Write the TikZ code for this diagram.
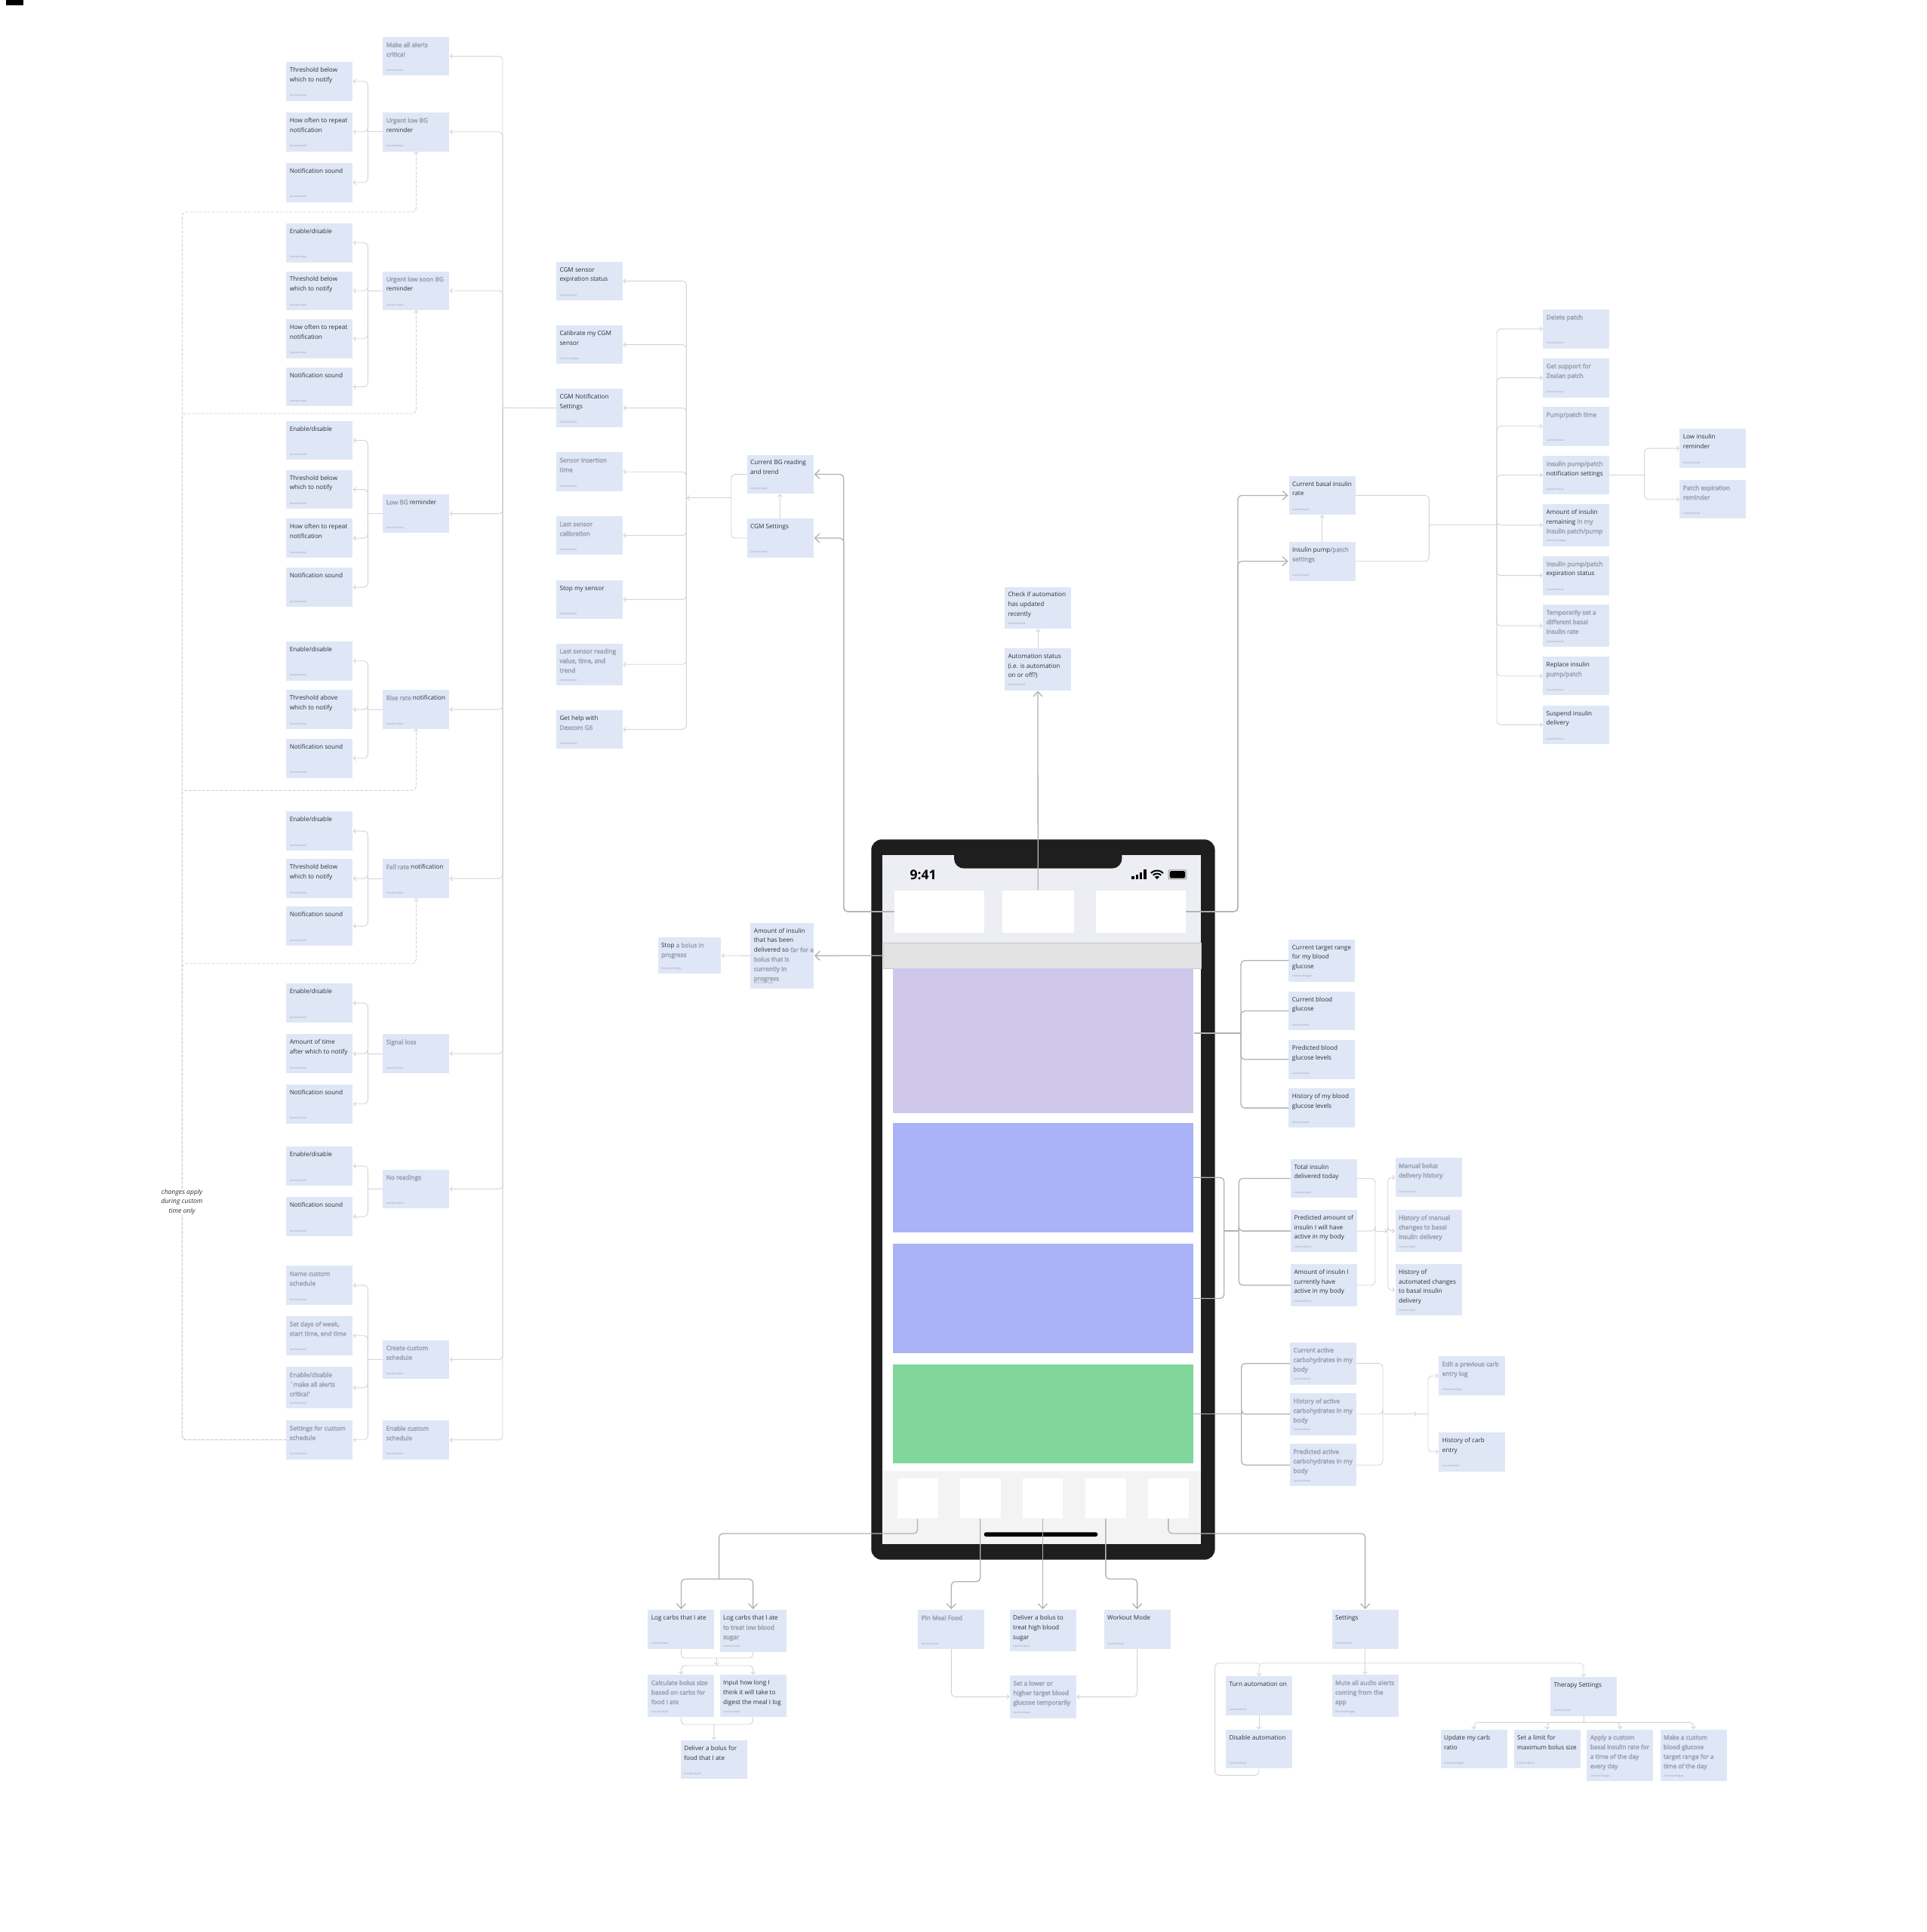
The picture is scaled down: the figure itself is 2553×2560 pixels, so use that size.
\documentclass[tikz,border=0pt]{standalone}
\usepackage{fontspec}
\setmainfont{Open Sans}
\newfontfamily\blurfont[FakeBold=6]{Open Sans}
\usetikzlibrary{arrows.meta}
\definecolor{cardblue}{HTML}{DFE7F6}
\definecolor{inktext}{HTML}{2C3039}
\definecolor{inkfoot}{HTML}{9097A6}
\definecolor{blurink}{HTML}{A3A9B9}
\definecolor{wirelight}{HTML}{D4D4D4}
\definecolor{wiremain}{HTML}{B2B2B2}
\definecolor{phonedark}{HTML}{1E1E1E}
\definecolor{topzone}{HTML}{EDEEF3}
\definecolor{tabzone}{HTML}{F3F3F3}
\definecolor{bannerfill}{HTML}{E3E3E3}
\definecolor{bannerline}{HTML}{C6C6C6}
\definecolor{battline}{HTML}{8A8A8A}
\definecolor{panellav}{HTML}{D0C8EB}
\definecolor{panelblue}{HTML}{A9B3F5}
\definecolor{panelgreen}{HTML}{81D69C}
\tikzset{
  cardbox/.style={fill=cardblue,anchor=north west,inner sep=0pt,outer sep=0pt},
  cardtext/.style={anchor=north west,inner sep=0pt,align=left,text=inktext,font=\fontsize{8.2}{12.67}\selectfont},
  cardfoot/.style={anchor=west,inner sep=0pt,text=inkfoot,font=\fontsize{3.3}{4}\selectfont},
  screen/.style={anchor=north west,inner sep=0pt,outer sep=0pt},
  wire/.style={draw=wirelight,line width=.9pt,rounded corners=5pt},
  tipped/.style={wire,-{Straight Barb[length=3pt,width=6pt]},shorten >=.5pt},
  dashwire/.style={wire,dash pattern=on 4pt off 2pt,-{Straight Barb[length=3pt,width=6pt]}},
  mainline/.style={draw=wiremain,line width=1.3pt,rounded corners=5pt},
  mainarrow/.style={mainline,-{Straight Barb[length=6.5pt,width=12pt]},shorten >=1pt},
}
\newcommand{\bl}[1]{{\blurfont\textcolor{blurink}{#1}}}
\def\cardw{88}
\newcommand{\card}[6][Caroline David]{
  \node[cardbox,minimum width=\cardw pt,minimum height=#5pt] (#2) at (#3,#4) {};
  \node[cardtext] (#2t) at ([xshift=4.3pt,yshift=-5.2pt]#2.north west) {\rule{0pt}{8pt}#6};
  \node[cardfoot] (#2f) at ([xshift=4.3pt,yshift=7pt]#2.south west) {#1};
}
\newcommand{\panel}[6]{\node[screen,#6,minimum width={#4-#2},minimum height={#5-#3}] (#1) at (#2,#3) {};}
\begin{document}
\begin{tikzpicture}[x=1pt,y=-1pt]
\useasboundingbox (0,0) rectangle (2553,2560);
\fill[white] (0,0) rectangle (2553,2560);
\fill[black] (8,0) rectangle (31,7);

% phone
\fill[phonedark,rounded corners=14pt] (1154.3,1112.3) rectangle (1609.6,2066.7);
\fill[white] (1169.3,1133) rectangle (1591.4,2046);
\fill[topzone] (1169.3,1133) rectangle (1591.4,1250);
\fill[tabzone] (1169.3,1949) rectangle (1591.4,2046);
\fill[phonedark,rounded corners=13pt] (1264,1120) -- (1264,1150.7) -- (1486.4,1150.7) -- (1486.4,1120) -- cycle;
\node[inner sep=0pt,font=\fontsize{17.5}{20}\selectfont\bfseries] (clock) at (1223,1159) {9:41};
\foreach \x/\h in {1499.3/4,1504.6/6.5,1510/9.5,1515.4/12.7}\fill[black] (\x,1165) rectangle ++(3.2,-\h);
\begin{scope}[shift={(1532.9,1165)},y=1pt]
\fill[black] (0,0) -- (45:4.5pt) arc (45:135:4.5pt) -- cycle;
\draw[black,line width=2pt] (45:7.5pt) arc (45:135:7.5pt);
\draw[black,line width=2pt] (45:11.5pt) arc (45:135:11.5pt);
\end{scope}
\draw[battline,rounded corners=2pt,line width=.8pt] (1547.9,1152.7) rectangle (1572,1165);
\fill[black,rounded corners=1.5pt] (1549.6,1154.2) rectangle (1570.3,1163.5);
\panel{topa}{1184.6}{1179.7}{1304.3}{1236}{fill=white}
\panel{topb}{1327.5}{1179.7}{1422.9}{1236}{fill=white}
\panel{topc}{1452}{1179.7}{1571.4}{1236}{fill=white}
\panel{banner}{1170}{1249.3}{1591.4}{1283.3}{fill=bannerfill,draw=bannerline}
\panel{panelp}{1182.9}{1283.3}{1581}{1475}{fill=panellav}
\panel{panela}{1182.9}{1487.6}{1581}{1633}{fill=panelblue}
\panel{panelb}{1182.9}{1648}{1581}{1793}{fill=panelblue}
\panel{panelg}{1182.9}{1808}{1581}{1939}{fill=panelgreen}
\panel{taba}{1188.6}{1959}{1242.5}{2012.3}{fill=white}
\panel{tabb}{1271.8}{1959}{1325.7}{2012.3}{fill=white}
\panel{tabc}{1354.6}{1959}{1408.2}{2012.3}{fill=white}
\panel{tabd}{1437.9}{1959}{1491.8}{2012.3}{fill=white}
\panel{tabe}{1520.7}{1959}{1575}{2012.3}{fill=white}
\fill[black,rounded corners=2.8pt] (1303.6,2030.3) rectangle (1454.3,2036);

% notification settings, far left
\card{mcrit}{507.3}{49}{51}{\bl{Make all alerts}\\\bl{critical}}
\card{ul}{507.3}{149}{51.5}{\bl{Urgent low BG}\\reminder}
\card{ula}{379.3}{82}{51.5}{Threshold below\\which to notify}
\card{ulb}{379.3}{149}{51.5}{How often to repeat\\notification}
\card{ulc}{379.3}{216}{51.5}{Notification sound}
\card{us}{507.3}{359.5}{51.5}{\bl{Urgent low soon BG}\\reminder}
\card{usa}{379.3}{296}{51.5}{Enable/disable}
\card{usb}{379.3}{359.5}{51.5}{Threshold below\\which to notify}
\card{usc}{379.3}{423}{51.5}{How often to repeat\\notification}
\card{usd}{379.3}{486.7}{51.5}{Notification sound}
\card{lo}{507.3}{655}{51.3}{\bl{Low BG} reminder}
\card{loa}{379.3}{557.7}{51.5}{Enable/disable}
\card{lob}{379.3}{622.7}{51.5}{Threshold below\\which to notify}
\card{loc}{379.3}{687.3}{51.5}{How often to repeat\\notification}
\card{lod}{379.3}{752.3}{51.5}{Notification sound}
\card{rr}{507.3}{914.3}{51.5}{\bl{Rise rate} notification}
\card{rra}{379.3}{850}{51.5}{Enable/disable}
\card{rrb}{379.3}{914.3}{51.5}{Threshold above\\which to notify}
\card{rrc}{379.3}{979}{51.5}{Notification sound}
\card{fr}{507.3}{1138.3}{51.5}{\bl{Fall rate} notification}
\card{fra}{379.3}{1075.3}{51.5}{Enable/disable}
\card{frb}{379.3}{1138.3}{51.5}{Threshold below\\which to notify}
\card{frc}{379.3}{1201.3}{51.5}{Notification sound}
\card{sl}{507.3}{1370.3}{51.5}{\bl{Signal loss}}
\card{sla}{379.3}{1303.3}{51.5}{Enable/disable}
\card{slb}{379.3}{1370.3}{51.5}{Amount of time\\after which to notify}
\card{slc}{379.3}{1437}{51.5}{Notification sound}
\card{nr}{507.3}{1549.7}{51.5}{\bl{No readings}}
\card{nra}{379.3}{1519.3}{51.5}{Enable/disable}
\card{nrb}{379.3}{1586.3}{51.5}{Notification sound}
\card{cc}{507.3}{1775.7}{51.6}{\bl{Create custom}\\\bl{schedule}}
\card{cca}{379.3}{1677.3}{51.5}{\bl{Name custom}\\\bl{schedule}}
\card{ccb}{379.3}{1744}{51.5}{\bl{Set days of week,}\\\bl{start time, end time}}
\card{ccc}{379.3}{1811.3}{55}{\bl{Enable/disable}\\\bl{`make all alerts}\\\bl{critical'}}
\card{ccd}{379.3}{1882}{51.5}{\bl{Settings for custom}\\\bl{schedule}}
\card{ec}{507.3}{1882.3}{51.2}{\bl{Enable custom}\\\bl{schedule}}

% cgm column
\card{cgma}{737}{346.7}{51.3}{CGM sensor\\expiration status}
\card[Christine Bridges]{cgmb}{737}{431}{51.3}{Calibrate my CGM\\sensor}
\card{cgmn}{737}{515}{51.3}{CGM Notification\\Settings}
\card{cgmd}{737}{599.4}{51.6}{\bl{Sensor insertion}\\\bl{time}}
\card{cgme}{737}{684}{51}{\bl{Last sensor}\\\bl{calibration}}
\card{cgmf}{737}{768.6}{51.4}{Stop my sensor}
\card{cgmg}{737}{852.5}{55.5}{\bl{Last sensor reading}\\\bl{value, time, and}\\\bl{trend}}
\card{cgmh}{737}{941}{51}{Get help with\\\bl{Dexcom G6}}
\card{bgnow}{989.6}{602.5}{51.8}{Current BG reading\\and trend}
\card{cgms}{989.6}{687.3}{51.4}{CGM Settings}
\card{check}{1331}{777.5}{55.5}{Check if automation\\has updated\\recently}
\card{auto}{1331}{859}{55.5}{Automation status\\(i.e. is automation\\on or off?)}

% pump column
\card{basal}{1707.6}{630.8}{51.2}{Current basal insulin\\rate}
\card{pump}{1707.6}{717.8}{51.8}{Insulin pump\bl{/patch}\\\bl{settings}}
\card{pma}{2044.2}{409.9}{51.8}{\bl{Delete patch}}
\card{pmb}{2044.2}{474.7}{51.8}{\bl{Get support for}\\\bl{Zealan patch}}
\card{pmc}{2044.2}{539}{51.5}{\bl{Pump/patch time}}
\card{pmd}{2044.2}{604}{51}{\bl{Insulin pump/patch}\\notification settings}
\card[Christine Bridges]{pme}{2044.2}{668}{55.7}{Amount of insulin\\remaining \bl{in my}\\\bl{insulin patch/pump}}
\card{pmf}{2044.2}{736.8}{51.7}{\bl{Insulin pump/patch}\\expiration status}
\card{pmg}{2044.2}{801}{56.3}{\bl{Temporarily set a}\\\bl{different basal}\\\bl{insulin rate}}
\card{pmh}{2044.2}{870}{51.4}{Replace insulin\\\bl{pump/patch}}
\card{pmi}{2044.2}{934.8}{51.2}{Suspend insulin\\delivery}
\card{lowi}{2225.4}{568.4}{51.4}{Low insulin\\reminder}
\card{patx}{2225.4}{636}{51.4}{\bl{Patch expiration}\\\bl{reminder}}

% banner cards
\def\cardw{83.6}
\card[Christine Bridges]{stop}{871.7}{1242}{48.3}{Stop \bl{a bolus in}\\\bl{progress}}
\card[Christine Bridges]{sofar}{994.3}{1222.7}{87.3}{Amount of insulin\\that has been\\delivered so \bl{far for a}\\\bl{bolus that is}\\\bl{currently in}\\\bl{progress}}
\def\cardw{88}

% right of the panels
\card[Christine Bridges]{tgt}{1707.3}{1244.9}{55.6}{Current target range\\for my blood\\glucose}
\card{cur}{1707.3}{1313.8}{51.5}{Current blood\\glucose}
\card{pred}{1707.3}{1378}{51.6}{Predicted blood\\glucose levels}
\card{hist}{1707.3}{1442.3}{51.6}{History of my blood\\glucose levels}
\card{tot}{1710}{1535.7}{51.5}{Total insulin\\delivered today}
\card{prin}{1710}{1603}{56.2}{Predicted amount of\\insulin I will have\\active in my body}
\card{amin}{1710}{1675}{56}{Amount of insulin I\\currently have\\active in my body}
\card{mana}{1848.6}{1534.2}{52}{\bl{Manual bolus}\\\bl{delivery history}}
\card{manb}{1848.6}{1603}{56.2}{\bl{History of manual}\\\bl{changes to basal}\\\bl{insulin delivery}}
\card{manc}{1848.6}{1675}{68.4}{History of\\automated changes\\to basal insulin\\delivery}
\card{cba}{1709}{1778.6}{56.1}{\bl{Current active}\\\bl{carbohydrates in my}\\\bl{body}}
\card{cbb}{1709}{1846}{55.5}{\bl{History of active}\\\bl{carbohydrates in my}\\\bl{body}}
\card{cbc}{1709}{1913}{56.4}{\bl{Predicted active}\\\bl{carbohydrates in my}\\\bl{body}}
\card[Christine Bridges]{edit}{1906.3}{1797}{52}{\bl{Edit a previous carb}\\\bl{entry log}}
\card{hcb}{1906.3}{1898}{51.5}{History of carb\\entry}

% bottom rows
\card{loga}{858.4}{2133.3}{51.4}{Log carbs that I ate}
\card{logb}{953.6}{2133.3}{55.4}{Log carbs that I ate\\\bl{to treat low blood}\\\bl{sugar}}
\card{calc}{858.4}{2219.3}{56}{\bl{Calculate bolus size}\\\bl{based on carbs for}\\\bl{food I ate}}
\card{inpt}{953.6}{2219.3}{56}{Input how long I\\think it will take to\\digest the meal I log}
\card{food}{901.8}{2306}{51}{Deliver a bolus for\\food that I ate}
\card{pin}{1216.3}{2133.3}{51.7}{\bl{Pin Meal Food}}
\card{bolh}{1337.7}{2133.3}{55}{Deliver a bolus to\\treat high blood\\sugar}
\card{work}{1462.6}{2133.3}{51.7}{Workout Mode}
\card{lowr}{1337.9}{2220}{56.7}{\bl{Set a lower or}\\\bl{higher target blood}\\\bl{glucose temporarily}}
\card{sett}{1764.6}{2133.3}{51.4}{Settings}
\card{turn}{1624}{2221.3}{51.4}{Turn automation on}
\card{disa}{1624}{2292}{51.3}{Disable automation}
\card[Christine Bridges]{mute}{1764.6}{2219.3}{56}{\bl{Mute all audio alerts}\\\bl{coming from the}\\\bl{app}}
\card{ther}{2054}{2222.3}{51.4}{Therapy Settings}
\card[Christine Bridges]{upd}{1908.6}{2292}{51.3}{Update my carb\\ratio}
\card{lim}{2005.7}{2292}{51.3}{Set a limit for\\maximum bolus size}
\card[Christine Bridges]{appl}{2102.4}{2291.7}{68.6}{\bl{Apply a custom}\\\bl{basal insulin rate for}\\\bl{a time of the day}\\\bl{every day}}
\card[Christine Bridges]{make}{2199.5}{2291.7}{68.6}{\bl{Make a custom}\\\bl{blood glucose}\\\bl{target range for a}\\\bl{time of the day}}

% dashed links and brackets on the left
\foreach \up/\yy in {ul/281,us/548,rr/1047.3,fr/1276.7}{
  \coordinate (dk) at (241.3,\yy);
  \draw[dashwire] (ccd.west) -| (dk) -| (\up.south);
}
\node[inner sep=1pt,fill=white,align=center,text=inktext,font=\fontsize{8.6}{12.67}\selectfont\itshape] (apply) at (241,1592.5) {changes apply\\during custom\\time only};
\foreach \up/\kids in {ul/{ula,ulb,ulc},us/{usa,usb,usc,usd},lo/{loa,lob,loc,lod},rr/{rra,rrb,rrc},fr/{fra,frb,frc},sl/{sla,slb,slc},nr/{nra,nrb},cc/{cca,ccb,ccc,ccd}}{
  \coordinate (jk) at (487.3,0);
  \draw[wire] (\up.west) -- (jk |- \up.west);
  \foreach \k in \kids \draw[tipped] (jk |- \up.west) |- (\k.east);
}
\coordinate (jbus) at (666,540.4);
\draw[wire] (cgmn.west) -- (jbus);
\foreach \k in {mcrit,ul,us,lo,rr,fr,sl,nr,cc,ec}\draw[tipped] (jbus) |- (\k.east);

% cgm links
\coordinate (jcgm) at (968.7,659.6);
\coordinate (jcol) at (909.3,659.6);
\draw[wire] (bgnow.west) -| (jcgm);
\draw[wire] (cgms.west) -| (jcgm);
\draw[tipped] (jcgm) -- (jcol);
\foreach \k in {cgma,cgmb,cgmn,cgmd,cgme,cgmf,cgmg,cgmh}\draw[tipped] (jcol) |- (\k.east);
\draw[tipped] (cgms.north) -- (bgnow.south);
\draw[tipped] (auto.north) -- (check.south);

% pump links
\coordinate (jpa) at (1893.3,695.8);
\coordinate (jpb) at (1983,695.8);
\draw[wire] (basal.east) -| (jpa);
\draw[wire] (pump.east) -| (jpa);
\draw[wire] (jpa) -- (jpb);
\foreach \k in {pma,pmb,pmc,pmd,pme,pmf,pmg,pmh,pmi}\draw[tipped] (jpb) |- (\k.west);
\draw[tipped] (pump.north) -- (basal.south);
\coordinate (jnt) at (2178.6,629.5);
\draw[wire] (pmd.east) -- (jnt);
\foreach \k in {lowi,patx}\draw[tipped] (jnt) |- (\k.west);

% big links out of the phone
\coordinate (trl) at (1117.8,628);
\coordinate (trr) at (1640,656);
\draw[mainarrow] (topa.west) -| (trl |- bgnow.east) -- (bgnow.east);
\draw[mainarrow] (topa.west) -| (trl |- cgms.east) -- (cgms.east);
\draw[mainarrow] (topc.east) -| (trr |- basal.west) -- (basal.west);
\draw[mainarrow] (topc.east) -| (trr |- pump.west) -- (pump.west);
\draw[mainarrow] (topb.north) -- (auto.south);
\draw[mainarrow] (banner.west) -- (sofar.east);
\draw[tipped] (sofar.west) -- (stop.east);

% panels to their cards
\coordinate (outp) at (1582,1369);
\coordinate (jtg) at (1644,1369);
\draw[mainline] (outp) -- (jtg);
\foreach \k in {tgt,cur,pred,hist}\draw[mainline] (jtg) |- (\k.west);
\coordinate (jin) at (1621.7,1631);
\coordinate (jio) at (1641.3,1631);
\draw[mainline] (panela.east) -| (jin);
\draw[mainline] (panelb.east) -| (jin);
\draw[mainline] (jin) -- (jio);
\foreach \k in {tot,prin,amin}\draw[mainline] (jio) |- (\k.west);
\coordinate (jma) at (1822,1631);
\coordinate (jmb) at (1838.7,1631);
\foreach \k in {tot,prin,amin}\draw[wire] (\k.east) -| (jma);
\draw[tipped] (jma) -- (jmb);
\foreach \k in {mana,manb,manc}\draw[tipped] (jmb) |- (\k.west);
\coordinate (jgr) at (1644.7,1873.5);
\draw[mainline] (panelg.east) -- (jgr);
\foreach \k in {cba,cbb,cbc}\draw[mainline] (jgr) |- (\k.west);
\coordinate (jca) at (1832,1873.5);
\coordinate (jcm) at (1878,1873.5);
\coordinate (jcb) at (1892,1873.5);
\foreach \k in {cba,cbb,cbc}\draw[wire] (\k.east) -| (jca);
\draw[tipped] (jca) -- (jcm);
\draw[wire] (jcm) -- (jcb);
\foreach \k in {edit,hcb}\draw[tipped] (jcb) |- (\k.west);

% tab bar links
\coordinate (jta) at (952.6,2032);
\coordinate (jtb) at (952.6,2092.3);
\draw[mainline] (taba.south) |- (jta) -- (jtb);
\foreach \k in {loga,logb}\draw[mainarrow] (jtb) -| (\k.north);
\coordinate (jpn) at (1298.7,2095.7);
\draw[mainarrow] (tabb.south) -- (jpn) -| (pin.north);
\draw[mainarrow] (tabc.south) -- (tabc.south |- bolh.north);
\coordinate (jwk) at (1506.6,2092.3);
\draw[mainarrow] (tabd.south) |- (jwk) -- (work.north);
\coordinate (jst) at (1808.6,2032);
\draw[mainarrow] (tabe.south) |- (jst) -- (sett.north);

% links between the bottom cards
\coordinate (jla) at (949.5,2197);
\coordinate (jlb) at (949.5,2207);
\foreach \k in {loga,logb}\draw[wire] (\k.south) |- (jla);
\draw[tipped] (jla) -- (jlb);
\foreach \k in {calc,inpt}\draw[tipped] (jlb) -| (\k.north);
\coordinate (jlc) at (945.9,2285);
\foreach \k in {calc,inpt}\draw[wire] (\k.south) |- (jlc);
\draw[tipped] (jlc) -- (food.north);
\draw[tipped] (pin.south) |- (lowr.west);
\draw[tipped] (work.south) |- (lowr.east);
\coordinate (jse) at (1808.6,2203.7);
\coordinate (jlp) at (1609.6,2352.3);
\draw[wire] (sett.south) -- (jse);
\foreach \k in {turn,mute,ther}\draw[tipped] (jse) -| (\k.north);
\draw[tipped] (turn.south) -- (disa.north);
\draw[wire] (disa.south) |- (jlp) |- (turn.north |- jse);
\coordinate (jth) at (2098,2282.3);
\draw[wire] (ther.south) -- (jth);
\foreach \k in {upd,lim,appl,make}\draw[tipped] (jth) -| (\k.north);
\end{tikzpicture}
\end{document}
